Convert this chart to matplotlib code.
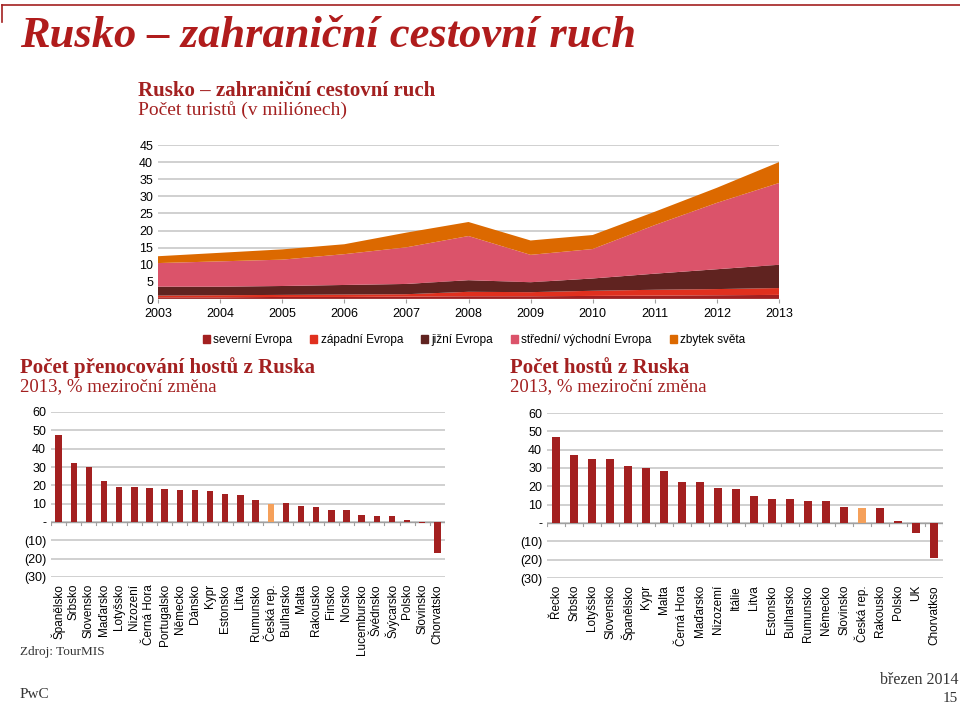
import matplotlib.pyplot as plt
from matplotlib.lines import Line2D
from matplotlib.patches import Patch
import numpy as np

plt.rcParams['font.family'] = ['Liberation Sans', 'DejaVu Sans']

RED = '#a32020'
GRID = '#c8c8c8'
SERIF = ['Liberation Serif', 'DejaVu Serif']

# --- area chart data (mil. tourists) ---
years = [2003, 2004, 2005, 2006, 2007, 2008, 2009, 2010, 2011, 2012, 2013]
severni = [0.5, 0.5, 0.6, 0.6, 0.7, 0.8, 0.8, 0.9, 1.0, 1.1, 1.2]
zapadni = [0.5, 0.6, 0.6, 0.7, 0.7, 1.3, 1.2, 1.5, 1.7, 1.8, 2.0]
jizni = [2.6, 2.5, 2.6, 2.8, 3.0, 3.4, 2.9, 3.6, 4.7, 5.8, 6.8]
stredni = [6.9, 7.4, 7.7, 9.0, 10.7, 12.9, 8.0, 8.6, 14.2, 19.4, 23.9]
zbytek = [2.0, 2.5, 3.0, 2.9, 4.3, 4.1, 4.2, 4.1, 3.9, 4.4, 6.1]
area_labels = ['severní Evropa', 'západní Evropa', 'jižní Evropa',
               'střední/ východní Evropa', 'zbytek světa']
area_colors = ['#a32020', '#e0301e', '#602320', '#db536a', '#dc6900']

# --- overnight stays, % yoy ---
noc_zeme = ['Španělsko', 'Srbsko', 'Slovensko', 'Maďarsko', 'Lotyšsko', 'Nizození',
            'Černá Hora', 'Portugalsko', 'Německo', 'Dánsko', 'Kypr', 'Estonsko',
            'Litva', 'Rumunsko', 'Česká rep.', 'Bulharsko', 'Malta', 'Rakousko',
            'Finsko', 'Norsko', 'Lucembursko', 'Švédnsko', 'Švýcarsko', 'Polsko',
            'Slovinsko', 'Chorvatsko']
noc_hodn = [47.2, 32.3, 30.1, 22.2, 19.1, 19.1, 18.7, 18.2, 17.6, 17.2, 17.1, 15.2,
            15.0, 12.1, 9.9, 10.1, 9.0, 8.3, 6.6, 6.6, 4.0, 3.1, 3.1, 1.3,
            -0.4, -16.9]

# --- guests, % yoy ---
host_zeme = ['Řecko', 'Srbsko', 'Lotyšsko', 'Slovensko', 'Španělsko', 'Kypr', 'Malta',
             'Černá Hora', 'Maďarsko', 'Nizozemí', 'Itálie', 'Litva', 'Estonsko',
             'Bulharsko', 'Rumunsko', 'Německo', 'Slovinsko', 'Česká rep.',
             'Rakousko', 'Polsko', 'UK', 'Chorvatkso']
host_hodn = [47.1, 37.0, 35.0, 35.0, 31.0, 29.9, 28.1, 22.1, 22.1, 19.1, 18.6, 15.0,
             13.1, 13.1, 12.2, 12.2, 8.9, 8.0, 8.2, 1.1, -5.7, -19.0]


def fmt_pct(v):
    if v == 0:
        return '-'
    if v < 0:
        return '(%d)' % abs(v)
    return '%d' % v


def bar_chart(ax, names, vals):
    x = np.arange(len(names))
    cols = ['#f5a05a' if n == 'Česká rep.' else RED for n in names]
    ax.bar(x, vals, width=0.42, color=cols, zorder=3)
    ax.set_xlim(-0.5, len(names) - 0.5)
    ax.set_ylim(-30, 60)
    ax.set_yticks(range(-30, 61, 10))
    ax.set_yticklabels([fmt_pct(v) for v in range(-30, 61, 10)])
    ax.grid(axis='y', color=GRID, lw=1.2, zorder=0)
    ax.axhline(0, color='#a0a0a0', lw=1, zorder=2)
    for s in ax.spines.values():
        s.set_visible(False)
    ax.tick_params(axis='y', length=0, labelsize=9)
    ax.set_xticks(x)
    ax.set_xticklabels(names, rotation=90, fontsize=8.5, va='top')
    ax.tick_params(axis='x', length=0, pad=5)
    # small tick marks between categories on the zero line
    for b in np.arange(-0.5, len(names), 1.0):
        ax.plot([b, b], [0, -1.5], color='#a0a0a0', lw=0.8, zorder=2)


fig = plt.figure(figsize=(9.6, 7.07), dpi=100)

# header line
fig.add_artist(Line2D([0.002, 1.0], [1 - 5 / 707, 1 - 5 / 707], color=RED, lw=1.2))
fig.add_artist(Line2D([0.002, 0.002], [1 - 5 / 707, 1 - 22 / 707], color=RED, lw=1.2))
fig.text(20 / 960, 1 - 36 / 707, 'Rusko – zahraniční cestovní ruch', family=SERIF,
         style='italic', weight='bold', fontsize=32, color='#b01c1c', va='center')

fig.text(138 / 960, 1 - 91 / 707, 'Rusko – zahraniční cestovní ruch', family=SERIF,
         weight='bold', fontsize=15, color=RED, va='center')
fig.text(138 / 960, 1 - 110 / 707, 'Počet turistů (v miliónech)', family=SERIF,
         fontsize=14, color=RED, va='center')

# area chart
ax1 = fig.add_axes([158 / 960, 1 - 299 / 707, 621 / 960, 154 / 707])
ax1.stackplot(years, severni, zapadni, jizni, stredni, zbytek, colors=area_colors,
              zorder=3)
ax1.set_xlim(2003, 2013)
ax1.set_ylim(0, 45)
ax1.set_yticks(range(0, 46, 5))
ax1.set_xticks(years)
ax1.grid(axis='y', color=GRID, lw=1.2, zorder=0)
for s in ax1.spines.values():
    s.set_visible(False)
ax1.axhline(0, color='#a0a0a0', lw=1, zorder=4)
ax1.tick_params(axis='y', length=0, labelsize=9)
ax1.tick_params(axis='x', length=3, color='#a0a0a0', labelsize=9)

handles = [Patch(color=c) for c in area_colors]
fig.legend(handles, area_labels, loc='center', bbox_to_anchor=(474 / 960, 1 - 340 / 707),
           ncol=5, frameon=False, fontsize=8.5, handlelength=0.6, handleheight=0.6,
           handletextpad=0.3, columnspacing=1.5)

# left bar chart
fig.text(20 / 960, 1 - 368 / 707, 'Počet přenocování hostů z Ruska', family=SERIF,
         weight='bold', fontsize=15, color=RED, va='center')
fig.text(20 / 960, 1 - 387 / 707, '2013, % meziroční změna', family=SERIF,
         fontsize=13.5, color=RED, va='center')
ax2 = fig.add_axes([51 / 960, 1 - 577 / 707, 394 / 960, 165 / 707])
bar_chart(ax2, noc_zeme, noc_hodn)

# right bar chart
fig.text(510 / 960, 1 - 368 / 707, 'Počet hostů z Ruska', family=SERIF,
         weight='bold', fontsize=15, color=RED, va='center')
fig.text(510 / 960, 1 - 387 / 707, '2013, % meziroční změna', family=SERIF,
         fontsize=13.5, color=RED, va='center')
ax3 = fig.add_axes([547 / 960, 1 - 578 / 707, 396 / 960, 165 / 707])
bar_chart(ax3, host_zeme, host_hodn)

# footer
fig.text(20 / 960, 1 - 652 / 707, 'Zdroj: TourMIS', family=SERIF, fontsize=9.5,
         color='#333333', va='center')
fig.text(20 / 960, 1 - 695 / 707, 'PwC', family=SERIF, fontsize=11,
         color='#333333', va='center')
fig.text(958 / 960, 1 - 680 / 707, 'březen 2014', family=SERIF, fontsize=11.5,
         color='#333333', va='center', ha='right')
fig.text(958 / 960, 1 - 699 / 707, '15', family=SERIF, fontsize=11,
         color='#333333', va='center', ha='right')

fig.savefig('out.png', dpi=100)
